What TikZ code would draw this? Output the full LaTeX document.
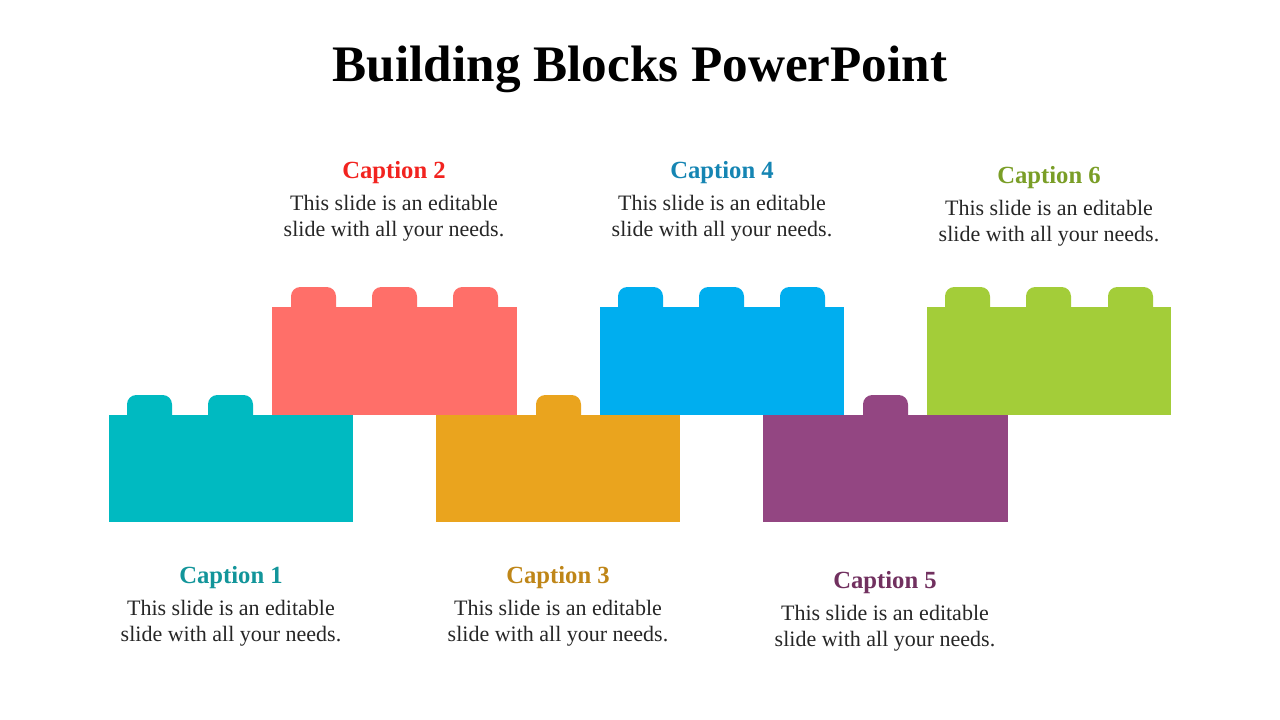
\documentclass[tikz,border=0pt]{standalone}
\usepackage{fontspec}
\setmainfont{Liberation Serif}
\definecolor{bteal}{HTML}{00BAC1}
\definecolor{bred}{HTML}{FF6F69}
\definecolor{borange}{HTML}{EAA41E}
\definecolor{bblue}{HTML}{00AEEF}
\definecolor{bpurple}{HTML}{934682}
\definecolor{bgreen}{HTML}{A3CD39}
\definecolor{cteal}{HTML}{12959A}
\definecolor{cred}{HTML}{F2231F}
\definecolor{corange}{HTML}{BF8618}
\definecolor{cblue}{HTML}{1585B3}
\definecolor{cpurple}{HTML}{71305F}
\definecolor{cgreen}{HTML}{7A9E27}
\definecolor{btext}{HTML}{262626}
\tikzset{
  captxt/.style={font=\fontsize{18.5}{22}\selectfont\bfseries, inner sep=0pt},
  bodytxt/.style={font=\fontsize{16.5}{19.5}\selectfont, text=btext, align=center, inner sep=0pt},
}
\newcommand{\studat}[3]{\fill[#1, rounded corners=7] (#2,#3) rectangle ++(45,30);}
\begin{document}
\begin{tikzpicture}[x=0.75pt,y=-0.75pt]
\useasboundingbox (0,0) rectangle (1280,720);
\fill[white] (0,0) rectangle (1280,720);
\node[font=\fontsize{38.4}{44}\selectfont\bfseries, inner sep=0pt, anchor=base] (title) at (640,82) {Building Blocks PowerPoint};
% upper row
\studat{bred}{291}{287}\studat{bred}{372}{287}\studat{bred}{453}{287}
\fill[bred] (272,307) rectangle (517,415);
\studat{bblue}{618}{287}\studat{bblue}{699}{287}\studat{bblue}{780}{287}
\fill[bblue] (600,307) rectangle (844,415);
\studat{bgreen}{945}{287}\studat{bgreen}{1026}{287}\studat{bgreen}{1108}{287}
\fill[bgreen] (927,307) rectangle (1171,415);
% lower row
\studat{bteal}{127}{395}\studat{bteal}{208}{395}
\fill[bteal] (109,415) rectangle (353,522);
\studat{borange}{536}{395}
\fill[borange] (436,415) rectangle (680,522);
\studat{bpurple}{863}{395}
\fill[bpurple] (763,415) rectangle (1008,522);
% captions
\node[captxt, text=cteal] (c1) at (231,578) {Caption 1};
\node[bodytxt] (t1) at (231,623) {This slide is an editable\\slide with all your needs.};
\node[captxt, text=cred] (c2) at (394,173) {Caption 2};
\node[bodytxt] (t2) at (394,218) {This slide is an editable\\slide with all your needs.};
\node[captxt, text=corange] (c3) at (558,578) {Caption 3};
\node[bodytxt] (t3) at (558,623) {This slide is an editable\\slide with all your needs.};
\node[captxt, text=cblue] (c4) at (722,173) {Caption 4};
\node[bodytxt] (t4) at (722,218) {This slide is an editable\\slide with all your needs.};
\node[captxt, text=cpurple] (c5) at (885,583) {Caption 5};
\node[bodytxt] (t5) at (885,628) {This slide is an editable\\slide with all your needs.};
\node[captxt, text=cgreen] (c6) at (1049,178) {Caption 6};
\node[bodytxt] (t6) at (1049,223) {This slide is an editable\\slide with all your needs.};
\end{tikzpicture}
\end{document}
